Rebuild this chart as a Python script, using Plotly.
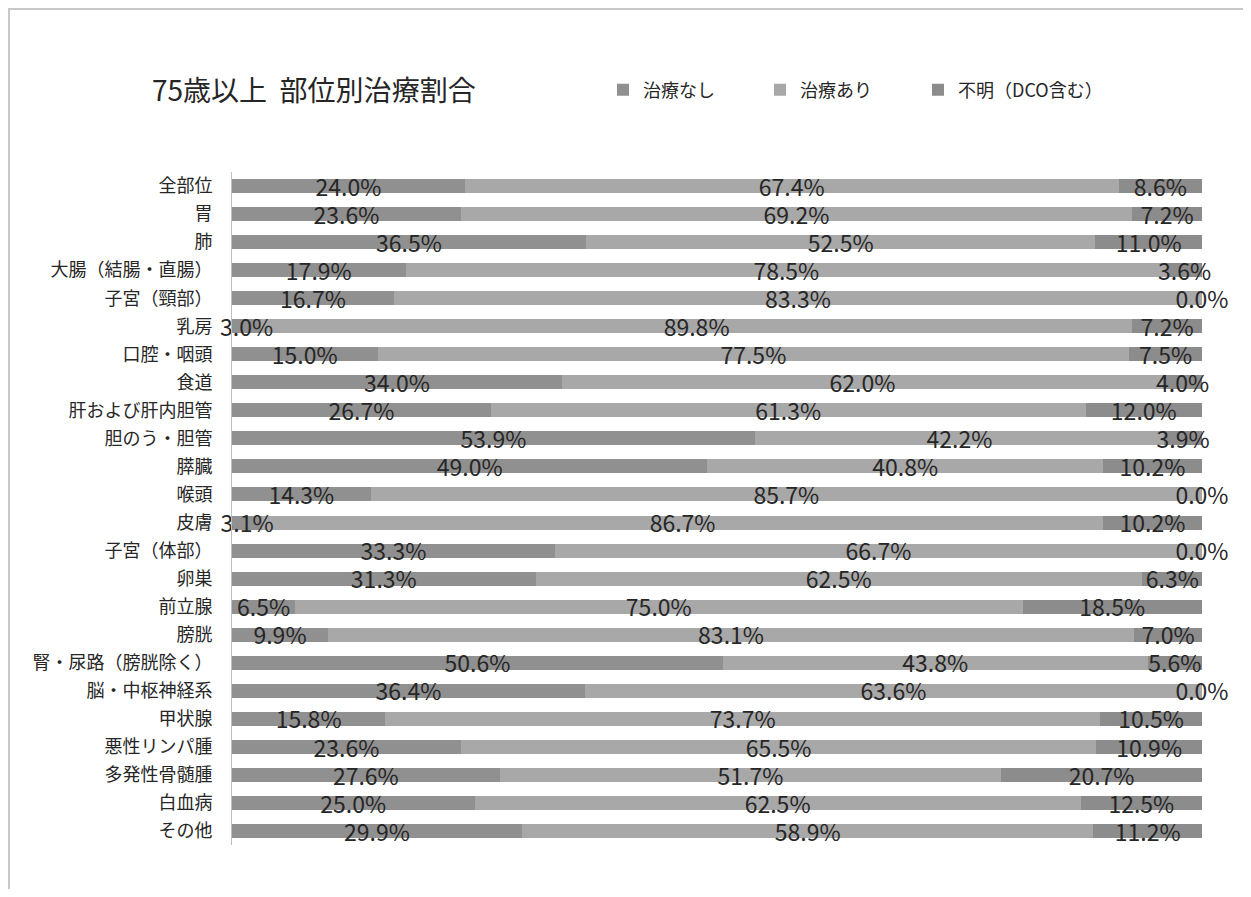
import plotly.graph_objects as go

categories = ["全部位", "胃", "肺", "大腸（結腸・直腸）", "子宮（頸部）", "乳房", "口腔・咽頭", "食道",
              "肝および肝内胆管", "胆のう・胆管", "膵臓", "喉頭", "皮膚", "子宮（体部）", "卵巣", "前立腺",
              "膀胱", "腎・尿路（膀胱除く）", "脳・中枢神経系", "甲状腺", "悪性リンパ腫", "多発性骨髄腫",
              "白血病", "その他"]
no_treatment = [24.0, 23.6, 36.5, 17.9, 16.7, 3.0, 15.0, 34.0, 26.7, 53.9, 49.0, 14.3, 3.1, 33.3, 31.3,
                6.5, 9.9, 50.6, 36.4, 15.8, 23.6, 27.6, 25.0, 29.9]
treatment = [67.4, 69.2, 52.5, 78.5, 83.3, 89.8, 77.5, 62.0, 61.3, 42.2, 40.8, 85.7, 86.7, 66.7, 62.5,
             75.0, 83.1, 43.8, 63.6, 73.7, 65.5, 51.7, 62.5, 58.9]
unknown = [8.6, 7.2, 11.0, 3.6, 0.0, 7.2, 7.5, 4.0, 12.0, 3.9, 10.2, 0.0, 10.2, 0.0, 6.3, 18.5, 7.0, 5.6,
           0.0, 10.5, 10.9, 20.7, 12.5, 11.2]
series_names = ["治療なし", "治療あり", "不明（DCO含む）"]
title_text = "75歳以上&nbsp;&nbsp;部位別治療割合"

colors = ["#909090", "#a8a8a8", "#8c8c8c"]
FONT = "Noto Sans CJK JP, Noto Sans, sans-serif"

ypos = list(range(len(categories)))
series = [no_treatment, treatment, unknown]

fig = go.Figure()
for k, (name, vals) in enumerate(zip(series_names, series)):
    fig.add_trace(go.Bar(
        y=ypos, x=vals, name=name, orientation="h", width=0.5,
        marker=dict(color=colors[k], line=dict(width=0)),
        legend="legend" if k == 0 else f"legend{k+1}",
        hoverinfo="x+name",
    ))

# data labels centred on each segment
for k, vals in enumerate(series):
    xs = []
    for i in range(len(categories)):
        start = sum(series[j][i] for j in range(k))
        xs.append(start + vals[i] / 2)
    fig.add_trace(go.Scatter(
        x=xs, y=[y + 0.14 for y in ypos], mode="text",
        text=[f"{v:.1f}%" for v in vals], textposition="middle center",
        textfont=dict(family=FONT, size=23, color="#262626"),
        showlegend=False, hoverinfo="skip", cliponaxis=False,
    ))

# the page body adds an 8px offset; figure coordinates below are page coordinates minus 8
OFF = 8
W, H = 1235, 881
L, T = 232 - OFF, 172 - OFF
R = W - (1202 - OFF)
B = H - (845 - OFF)
pw, ph = W - L - R, H - T - B

def px(x):
    return (x - OFF - L) / pw

def py(y):
    return (H - B - (y - OFF)) / ph

legend_common = dict(orientation="h", yanchor="middle", xanchor="left",
                     font=dict(family=FONT, size=18, color="#262626"),
                     bgcolor="rgba(0,0,0,0)", itemwidth=30, traceorder="normal")

fig.update_layout(
    width=W, height=H,
    margin=dict(l=L, r=R, t=T, b=B),
    paper_bgcolor="white", plot_bgcolor="white",
    barmode="stack", bargap=0.5,
    title=dict(text=title_text, x=(152 - OFF) / W, xanchor="left", y=1 - (91 - OFF) / H,
               yanchor="middle", font=dict(family=FONT, size=28, color="#262626")),
    xaxis=dict(range=[0, 100], showticklabels=False, showgrid=False, zeroline=False,
               showline=False, ticks=""),
    yaxis=dict(range=[len(categories) - 0.5, -0.5], tickvals=ypos, ticktext=categories,
               showgrid=False, zeroline=False, showline=True, linecolor="#bfbfbf", linewidth=1,
               ticks="", ticklabelstandoff=15,
               tickfont=dict(family=FONT, size=18, color="#262626")),
    legend=dict(x=px(603), y=py(90), **legend_common),
    legend2=dict(x=px(760), y=py(90), **legend_common),
    legend3=dict(x=px(918), y=py(90), **legend_common),
    showlegend=True,
    shapes=[
        dict(type="line", xref="paper", yref="paper", x0=px(8), x1=px(1250), y0=py(9), y1=py(9),
             line=dict(color="#c8c8c8", width=2)),
        dict(type="line", xref="paper", yref="paper", x0=px(9), x1=px(9), y0=py(9), y1=py(900),
             line=dict(color="#c8c8c8", width=2)),
    ],
)

fig.write_html("out.html")
